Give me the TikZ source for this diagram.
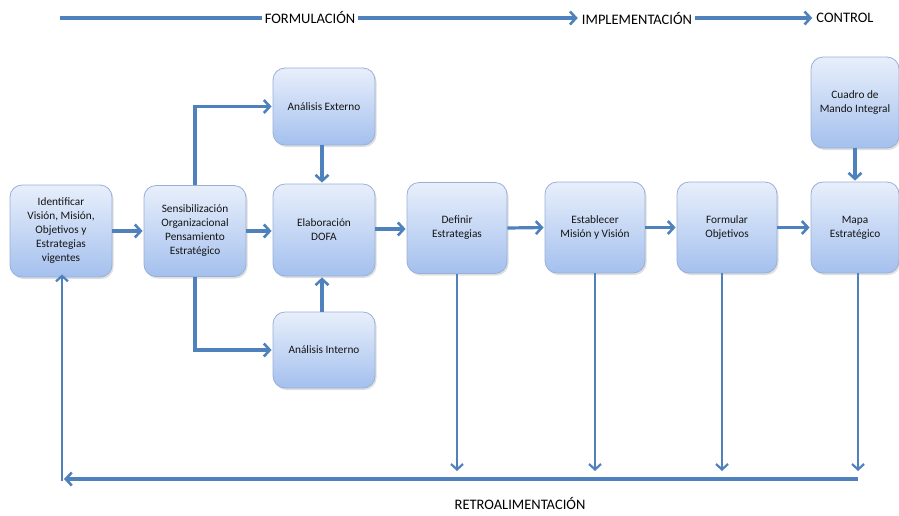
\documentclass[tikz,border=0pt]{standalone}
\usepackage{fontspec}
\setmainfont{Carlito}
\usetikzlibrary{arrows.meta,shadows,calc}
\definecolor{arrowblue}{HTML}{4F81BD}
\definecolor{boxtop}{HTML}{E8EFFB}
\definecolor{boxbot}{HTML}{A4C0EE}
\definecolor{boxline}{HTML}{98B0D8}
\definecolor{txt}{HTML}{141414}
\tikzset{
  stepbox/.style={draw=boxline, line width=0.8pt, rounded corners=12pt,
    top color=boxtop, bottom color=boxbot, align=center, text=txt,
    font=\fontsize{11.3}{14}\selectfont, inner sep=2pt,
    drop shadow={opacity=0.25, shadow xshift=1.5pt, shadow yshift=-2pt}},
  arr/.style={draw=arrowblue, line width=3.2pt,
    -{Straight Barb[length=6pt,width=13pt,line width=2.6pt]}, shorten >=1pt},
  thinarr/.style={draw=arrowblue, line width=2.4pt,
    -{Straight Barb[length=5.5pt,width=12pt,line width=2.2pt]}},
  plainline/.style={draw=arrowblue, line width=3.2pt},
  label/.style={font=\fontsize{14.5}{16}\selectfont, text=black, inner sep=3pt}
}
\begin{document}
\begin{tikzpicture}[x=1pt,y=-1pt]
\useasboundingbox (0,0) rectangle (899,515);

% top labels
\coordinate (t0) at (60,18);
\node[label] (formu) at (310,17) {FORMULACIÓN};
\node[label] (impl) at (637,18) {IMPLEMENTACIÓN};
\node[label] (ctrl) at (845,18) {CONTROL};
\draw[plainline] (t0) -- (formu.west |- t0);
\draw[arr] (formu.east |- t0) -- (impl.west |- t0);
\draw[arr] (impl.east |- t0) -- (ctrl.west |- t0);

% boxes
\node[stepbox, minimum width=102pt, minimum height=92pt] (ident) at (61,231)
  {Identificar\\Visión, Misión,\\Objetivos y\\Estrategias\\vigentes};
\node[stepbox, minimum width=102pt, minimum height=91pt] (sens) at (195,231)
  {Sensibilización\\Organizacional\\Pensamiento\\Estratégico};
\node[stepbox, minimum width=102pt, minimum height=77pt] (ext) at (324,106.5)
  {Análisis Externo};
\node[stepbox, minimum width=102pt, minimum height=92pt] (dofa) at (324,230)
  {Elaboración\\DOFA};
\node[stepbox, minimum width=102pt, minimum height=76pt] (int) at (324,350)
  {Análisis Interno};
\node[stepbox, minimum width=100pt, minimum height=91pt] (def) at (457,228)
  {Definir\\Estrategias};
\node[stepbox, minimum width=100pt, minimum height=91pt] (est) at (595,227.5)
  {Establecer\\Misión y Visión};
\node[stepbox, minimum width=100pt, minimum height=91pt] (form) at (727,227.5)
  {Formular\\Objetivos};
\node[stepbox, minimum width=88pt, minimum height=91pt] (mapa) at (855,227.5)
  {Mapa\\Estratégico};
\node[stepbox, minimum width=88pt, minimum height=91pt] (cuadro) at (855,102.5)
  {Cuadro de\\Mando Integral};

% forward flow
\draw[arr] (ident.east) -- (sens.west);
\draw[arr] (sens.east) -- (dofa.west |- sens.east);
\draw[arr] (sens.north) |- (ext.west);
\draw[arr] (sens.south) |- (int.west);
\draw[arr] ([xshift=-2pt]ext.south) -- ([xshift=-2pt]dofa.north);
\draw[arr] ([xshift=-2pt]int.north) -- ([xshift=-2pt]dofa.south);
\draw[arr] ([yshift=1pt]dofa.east) -- ([yshift=1pt]dofa.east -| def.west);
\draw[arr] (def.east) -- (est.west);
\draw[arr] (est.east) -- (form.west);
\draw[arr] (form.east) -- (mapa.west);
\draw[arr] (cuadro.south) -- (mapa.north);

% feedback
\coordinate (fbR) at (858,479);
\coordinate (fbL) at (63,479);
\coordinate (corner) at (62,481);
\coordinate (fbdown) at (0,471);
\draw[thinarr] (def.south) -- (def.south |- fbdown);
\draw[thinarr] (est.south) -- (est.south |- fbdown);
\draw[thinarr] ([xshift=-5pt]form.south) -- ([xshift=-5pt]form.south |- fbdown);
\draw[thinarr] ([xshift=3pt]mapa.south) -- ([xshift=3pt]mapa.south |- fbdown);
\draw[arr] (fbR) -- (fbL);
\draw[thinarr] (corner) -- ([yshift=3pt]ident.south -| corner);
\node[label] (retro) at (520,503) {RETROALIMENTACIÓN};
\end{tikzpicture}
\end{document}
